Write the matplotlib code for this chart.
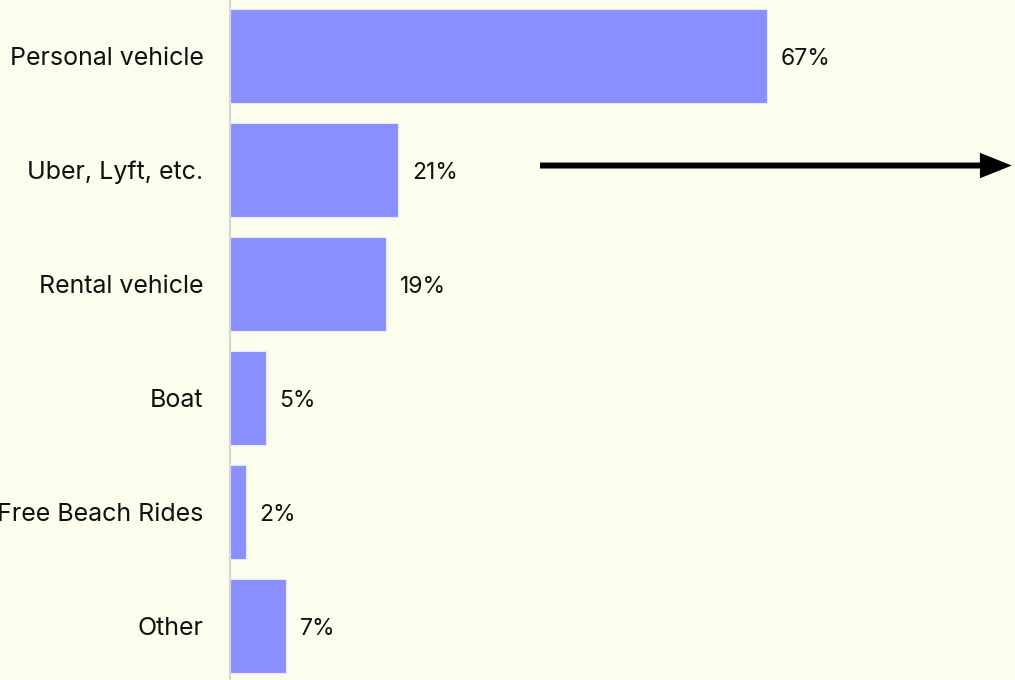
import matplotlib.pyplot as plt

# data
categories = ['Personal vehicle', 'Uber, Lyft, etc.', 'Rental vehicle', 'Boat', 'Free Beach Rides', 'Other']
values = [67, 21, 19.5, 4.5, 2, 7]
labels = ['67%', '21%', '19%', '5%', '2%', '7%']

bg = '#fbfeec'
bar_color = '#8a8fff'

plt.rcParams['font.family'] = ['Inter', 'DejaVu Sans']

fig = plt.figure(figsize=(10.15, 6.8), dpi=100, facecolor=bg)
ax = fig.add_axes([230 / 1015, 0, 785 / 1015, 1])
ax.set_facecolor(bg)

y = list(range(len(categories)))
ax.barh(y, values, height=0.825, color=bar_color, edgecolor='#e6e8ff', linewidth=0.8)

for yi, v, lab in zip(y, values, labels):
    ax.text(v + 1.7, yi + 0.025, lab, va='center', ha='left', fontsize=16.5, color='#111111')

ax.set_xlim(0, 98)
ax.set_ylim(5.474, -0.491)

ax.set_yticks(y)
ax.set_yticklabels(categories, fontsize=18, color='#111111')
ax.tick_params(axis='y', length=0, pad=19)
ax.set_xticks([])

for s in ['top', 'right', 'bottom']:
    ax.spines[s].set_visible(False)
ax.spines['left'].set_color('#d6d6d6')
ax.spines['left'].set_linewidth(1.5)

# arrow pointing right
ax.annotate('', xy=(97.6, 0.961), xytext=(38.7, 0.961),
            arrowprops=dict(arrowstyle='-|>,head_length=0.75,head_width=0.3',
                            color='black', lw=4.3, capstyle='butt', joinstyle='miter',
                            mutation_scale=20, shrinkA=0, shrinkB=0),
            annotation_clip=False)

fig.savefig('out.png', dpi=100, facecolor=bg)
